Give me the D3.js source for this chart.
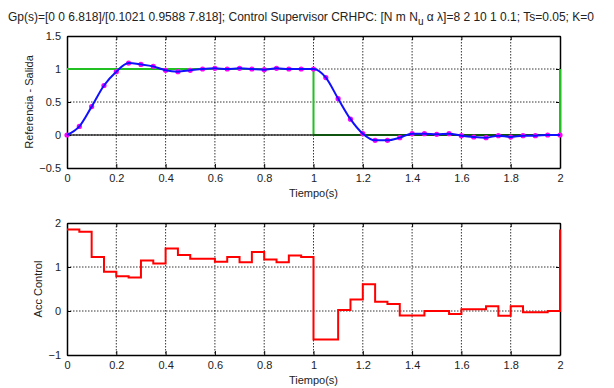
<!DOCTYPE html>
<html>
<head>
<meta charset="utf-8">
<script src="https://cdn.jsdelivr.net/npm/d3@7"></script>
<style>
body { margin: 0; background: #fff; }
svg text { font-family: "Liberation Sans", Arial, sans-serif; font-size: 11px; fill: #222; }
</style>
</head>
<body>
<svg id="chart" width="614" height="388"></svg>
<script>
// sample times (Ts = 0.05)
var tiempo = d3.range(41).map(function(k){ return +(k * 0.05).toFixed(2); });

// output y(k)
var salida = [0, 0.13, 0.43, 0.75, 0.96, 1.09, 1.07, 1.04, 0.98, 0.96,
  0.98, 1.0, 1.01, 1.0, 1.01, 1.0, 0.99, 1.01, 1.0, 1.0,
  1.0, 0.87, 0.55, 0.24, 0.02, -0.08, -0.08, -0.04, 0.02, 0.02,
  0.01, 0.02, -0.01, -0.03, -0.04, -0.01, -0.03, -0.01, -0.01, 0, 0];

// reference r(k)
var refT = [0, 1, 1, 2, 2];
var refV = [1, 1, 0, 0, 1];

// control action u(k), held over each interval
var control = [1.85, 1.80, 1.23, 0.89, 0.79, 0.76, 1.15, 1.08, 1.42, 1.27,
  1.19, 1.19, 1.12, 1.23, 1.11, 1.34, 1.17, 1.11, 1.26, 1.23,
  -0.65, -0.65, 0.02, 0.26, 0.61, 0.21, 0.16, -0.10, -0.10, 0,
  0, -0.07, 0.04, 0.04, 0.11, -0.11, 0.11, -0.03, -0.03, 0, 1.85];

var xTicks = [0, 0.2, 0.4, 0.6, 0.8, 1, 1.2, 1.4, 1.6, 1.8, 2];
var yTicksTop = [-0.5, 0, 0.5, 1, 1.5];
var yTicksBot = [-1, 0, 1, 2];

var svg = d3.select("#chart");

svg.append("text")
    .attr("x", 8).attr("y", 21).style("font-size", "12px")
    .html('Gp(s)=[0 0 6.818]/[0.1021 0.9588 7.818]; Control Supervisor CRHPC: [N m N<tspan dy="4" font-size="10">u</tspan><tspan dy="-4"> \u03b1 \u03bb]=8 2 10 1 0.1; Ts=0.05; K=0</tspan>');

var x = d3.scaleLinear().domain([0, 2]).range([67, 560]);

function panel(top, bottom, yDom, yTicks, ylabel, labelX, xlabelY) {
  var y = d3.scaleLinear().domain(yDom).range([bottom, top]);
  var g = svg.append("g");
  // grid
  g.selectAll(".gx").data(xTicks.slice(1, -1)).enter().append("line")
    .attr("x1", function(d){ return x(d); }).attr("x2", function(d){ return x(d); })
    .attr("y1", top).attr("y2", bottom)
    .attr("stroke", "#000").attr("stroke-width", 0.8).attr("stroke-dasharray", "1.5,1.5");
  g.selectAll(".gy").data(yTicks.slice(1, -1)).enter().append("line")
    .attr("x1", x(0)).attr("x2", x(2))
    .attr("y1", function(d){ return y(d); }).attr("y2", function(d){ return y(d); })
    .attr("stroke", "#000").attr("stroke-width", 0.8).attr("stroke-dasharray", "1.5,1.5");
  // axes
  g.append("g").attr("transform", "translate(0," + bottom + ")")
    .call(d3.axisBottom(x).tickValues(xTicks).tickSizeInner(-4).tickSizeOuter(0).tickPadding(6).tickFormat(d3.format("")));
  g.append("g").attr("transform", "translate(" + x(0) + ",0)")
    .call(d3.axisLeft(y).tickValues(yTicks).tickSizeInner(-4).tickSizeOuter(0).tickPadding(6).tickFormat(d3.format("")));
  g.append("g").attr("transform", "translate(0," + top + ")")
    .call(d3.axisTop(x).tickValues(xTicks).tickSizeInner(-4).tickSizeOuter(0).tickFormat(""));
  g.append("g").attr("transform", "translate(" + x(2) + ",0)")
    .call(d3.axisRight(y).tickValues(yTicks).tickSizeInner(-4).tickSizeOuter(0).tickFormat(""));
  g.selectAll(".domain").attr("stroke", "#000").attr("stroke-width", 1.5);
  g.selectAll(".tick line").attr("stroke", "#000");
  g.selectAll(".tick text").style("font-size", "11px").attr("fill", "#222");
  g.append("text").attr("transform", "translate(" + labelX + "," + ((top + bottom) / 2) + ") rotate(-90)")
    .attr("text-anchor", "middle").text(ylabel);
  g.append("text").attr("x", (x(0) + x(2)) / 2).attr("y", xlabelY)
    .attr("text-anchor", "middle").text("Tiempo(s)");
  return y;
}

// top panel
var y1 = panel(36, 168, [-0.5, 1.5], yTicksTop, "Referencia - Salida", 33, 197);

svg.append("path")
  .attr("d", d3.line().curve(d3.curveLinear).x(function(d, i){ return x(refT[i]); }).y(function(d){ return y1(d); })(refV))
  .attr("fill", "none").attr("stroke", "#22c022").attr("stroke-width", 2);

svg.append("line")
  .attr("x1", x(0)).attr("x2", x(2)).attr("y1", y1(0)).attr("y2", y1(0))
  .attr("stroke", "#000").attr("stroke-width", 1.6).attr("stroke-opacity", 0.75);

svg.selectAll(".pt").data(salida).enter().append("circle")
  .attr("cx", function(d, i){ return x(tiempo[i]); })
  .attr("cy", function(d){ return y1(d); })
  .attr("r", 2.6).attr("fill", "#ff00ff");

svg.append("path")
  .attr("d", d3.line().curve(d3.curveMonotoneX).x(function(d, i){ return x(tiempo[i]); }).y(function(d){ return y1(d); })(salida))
  .attr("fill", "none").attr("stroke", "#1010ff").attr("stroke-width", 2);

// bottom panel
var y2 = panel(223, 355, [-1, 2], yTicksBot, "Acc Control", 42, 384);

svg.append("path")
  .attr("d", d3.line().curve(d3.curveStepAfter).x(function(d, i){ return x(tiempo[i]); }).y(function(d){ return y2(d); })(control))
  .attr("fill", "none").attr("stroke", "#ff0000").attr("stroke-width", 2);
</script>
</body>
</html>
